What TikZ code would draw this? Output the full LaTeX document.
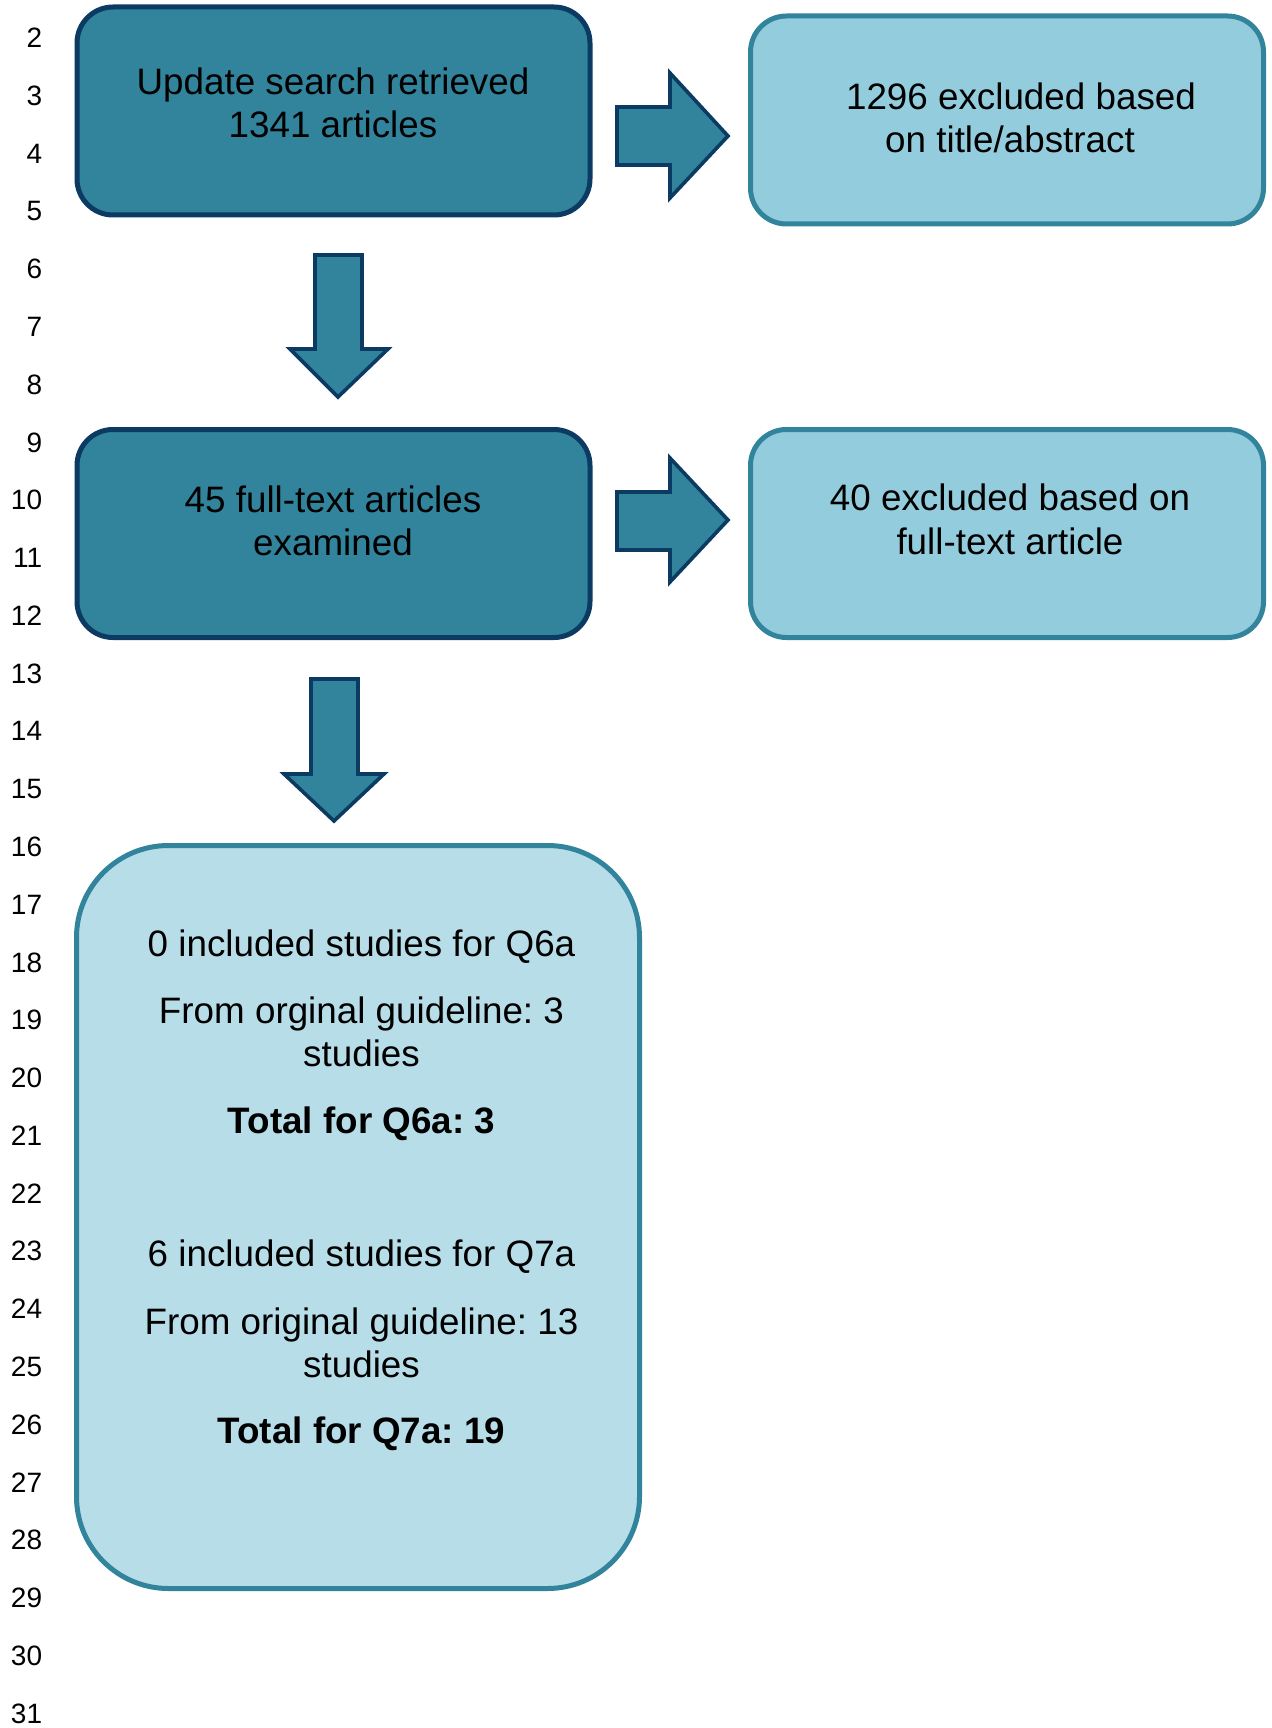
\documentclass[tikz,border=0pt]{standalone}
\usepackage{fontspec}
\setmainfont{Liberation Sans}
\definecolor{tealfill}{HTML}{31849B}
\definecolor{navyline}{HTML}{0B3A62}
\definecolor{aquamid}{HTML}{93CDDD}
\definecolor{aqualight}{HTML}{B7DDE8}
\begin{document}
\frenchspacing
\begin{tikzpicture}[x=0.5pt,y=-0.5pt,
  darkbox/.style={draw=navyline, fill=tealfill, line width=2.5pt, rounded corners=18pt, inner sep=0pt, minimum width=256.5pt, minimum height=104pt},
  lightbox/.style={draw=tealfill, fill=aquamid, line width=2.5pt, rounded corners=18pt, inner sep=0pt, minimum width=256.5pt, minimum height=104pt},
  bigbox/.style={draw=tealfill, fill=aqualight, line width=2.5pt, rounded corners=46pt, inner sep=0pt, minimum width=281.5pt, minimum height=371.5pt},
  blockarrow/.style={draw=navyline, fill=tealfill, line width=1.8pt, line join=miter},
  txt/.style={anchor=base, inner sep=0pt, font=\fontsize{18.4}{21.5}\selectfont},
  boldtxt/.style={txt, font=\fontsize{18.4}{21.5}\selectfont\bfseries},
  lnum/.style={anchor=base east, inner sep=0pt, font=\fontsize{14}{16}\selectfont}]
\useasboundingbox (0,0) rectangle (1272,1728);

% line numbers
\foreach \n in {2,...,31}
  \node[lnum] (ln\n) at (42.5, {38.6+(\n-2)*57.78+9}) {\n};

% boxes
\node[darkbox] (b1) at (333.5,111) {};
\node[lightbox] (b2) at (1007,120) {};
\node[darkbox] (b3) at (333.5,533.5) {};
\node[lightbox] (b4) at (1007,533.5) {};
\node[bigbox] (b5) at (358,1217) {};

% texts
\node[txt] (t1a) at (333,95) {Update search retrieved};
\node[txt] (t1b) at (333,138) {1341 articles};
\node[txt] (t2a) at (1021,110) {1296 excluded based};
\node[txt] (t2b) at (1010,153) {on title/abstract};
\node[txt] (t3a) at (333,512) {45 full-text articles};
\node[txt] (t3b) at (333,555) {examined};
\node[txt] (t4a) at (1010,510) {40 excluded based on};
\node[txt] (t4b) at (1010,554) {full-text article};
\node[txt] (t5a) at (361.5,956) {0 included studies for Q6a};
\node[txt] (t5b) at (361.5,1023) {From orginal guideline: 3};
\node[txt] (t5c) at (361.5,1066) {studies};
\node[boldtxt] (t5d) at (361.5,1133) {Total for Q6a: 3};
\node[txt] (t5e) at (361.5,1266) {6 included studies for Q7a};
\node[txt] (t5f) at (361.5,1334) {From original guideline: 13};
\node[txt] (t5g) at (361.5,1377) {studies};
\node[boldtxt] (t5h) at (361.5,1443) {Total for Q7a: 19};

% block arrows
\draw[blockarrow] (617,107) -- (670,107) -- (670,73) -- (728,136) -- (670,198) -- (670,165) -- (617,165) -- cycle;
\draw[blockarrow] (617,492) -- (670,492) -- (670,458) -- (728,520) -- (670,582) -- (670,550) -- (617,550) -- cycle;
\draw[blockarrow] (315,255) -- (315,349) -- (290,349) -- (338,397) -- (388,349) -- (362,349) -- (362,255) -- cycle;
\draw[blockarrow] (311,679) -- (311,774) -- (284,774) -- (334,821) -- (384,774) -- (358,774) -- (358,679) -- cycle;
\end{tikzpicture}
\end{document}
